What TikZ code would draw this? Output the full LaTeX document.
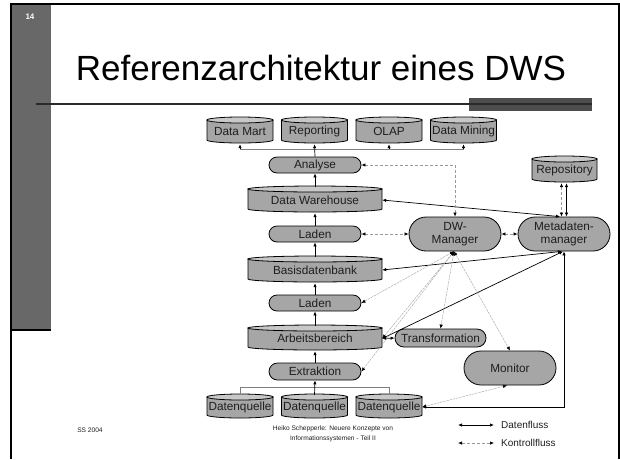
\documentclass[tikz,border=0pt]{standalone}
\usepackage{fontspec}
\setmainfont{Liberation Sans}
\usetikzlibrary{arrows.meta,shapes.misc,calc}

\definecolor{nodegray}{HTML}{A6A6A6}
\definecolor{capgray}{HTML}{C8C8C8}
\definecolor{bargray}{HTML}{686868}
\definecolor{rulegray}{HTML}{4D4D4D}
\definecolor{ruledark}{HTML}{2A2A2A}
\definecolor{ctrlgray}{HTML}{9A9A9A}
\definecolor{fangray}{HTML}{A8A8A8}
\definecolor{busgray}{HTML}{808080}
\definecolor{txt}{HTML}{1E1E1E}

\tikzset{
  tip/.tip={Latex[length=4pt,width=3.4pt,color=black]},
  nodefont/.style={font=\fontsize{11.8}{13.5}\selectfont, text=txt},
  cylbody/.style={fill=nodegray, draw=black, line width=0.8pt},
  cylcap/.style={fill=capgray, draw=black, line width=0.8pt},
  cyltext/.style={nodefont, rectangle, inner sep=0pt},
  stad/.style={nodefont, rounded rectangle, fill=nodegray, draw=black,
    line width=0.8pt, inner sep=0pt, align=center},
  flow/.style={draw=black, line width=0.7pt, -tip},
  flowboth/.style={draw=black, line width=0.7pt, tip-tip},
  bus/.style={draw=busgray, line width=0.8pt},
  ctrl/.style={draw=ctrlgray, line width=0.6pt, dash pattern=on 3pt off 2pt, tip-tip},
  ctrlfan/.style={draw=fangray, line width=0.45pt, dash pattern=on 2.5pt off 0.8pt, tip-tip},
  legendtext/.style={anchor=west, font=\fontsize{10}{11}\selectfont, text=txt, inner sep=0pt},
}

% cylinder: name, centre x, centre y, width, height, text
\newcommand\cylnode[6]{%
  \path[cylbody] (#2-#4/2,#3-#5/2+3) -- (#2-#4/2,#3+#5/2-3)
    arc[start angle=180,end angle=360,x radius={#4*0.5pt},y radius=3pt]
    -- (#2+#4/2,#3-#5/2+3) -- cycle;
  \path[cylcap] (#2,#3-#5/2+3) ellipse[x radius={#4*0.5pt},y radius=3pt];
  \node[cyltext,minimum width=#4,minimum height=#5] (#1) at (#2,#3+1) {#6};
}

\begin{document}
\begin{tikzpicture}[x=1pt,y=-1pt]
\useasboundingbox (0,0) rectangle (620,459);

% slide frame
\fill[bargray] (12,4) rectangle (51,330);
\draw[black, line width=1.6] (12,330) -- (51,330);
\draw[black, line width=2.2] (11.2,459) -- (11.2,4) -- (618.8,4) -- (618.8,459);
\node[font=\bfseries\fontsize{8}{9}\selectfont, text=white] (pagenum) at (30,17) {14};

% title and rule
\node[anchor=base, font=\fontsize{35}{40}\selectfont, text=black] (title) at (321,80) {Referenzarchitektur eines DWS};
\fill[rulegray] (469,98) rectangle (592,111);
\draw[ruledark, line width=2] (36,104) -- (592,104);

% cylinders
\cylnode{dmart}{240}{130}{66}{26}{Data Mart}
\cylnode{rep}{314.5}{130}{66}{26}{Reporting}
\cylnode{olap}{389}{130}{66}{26}{OLAP}
\cylnode{dmin}{463.5}{130}{66}{26}{Data Mining}
\cylnode{repo}{564.5}{169}{65}{26}{Repository}
\cylnode{dwh}{315}{199}{134}{26}{Data Warehouse}
\cylnode{basis}{315}{269}{134}{26}{Basisdatenbank}
\cylnode{arb}{315}{337.5}{134}{25}{Arbeitsbereich}
\cylnode{dq1}{240}{406}{66}{24}{Datenquelle}
\cylnode{dq2}{314.5}{406}{66}{24}{Datenquelle}
\cylnode{dq3}{389}{406}{66}{24}{Datenquelle}

% processes
\node[stad, minimum width=92, minimum height=16] (analyse) at (315,165) {Analyse};
\node[stad, minimum width=92, minimum height=16] (laden1) at (315,234) {Laden};
\node[stad, minimum width=92, minimum height=16] (laden2) at (315,303) {Laden};
\node[stad, minimum width=92, minimum height=17] (extr) at (315,371.5) {Extraktion};
\node[stad, minimum width=91, minimum height=18] (trans) at (440.5,338) {Transformation};
\node[stad, minimum width=92, minimum height=34] (dwm) at (455,234) {DW-\\Manager};
\node[stad, minimum width=92, minimum height=34] (meta) at (564,234) {Metadaten-\\manager};
\node[stad, minimum width=92, minimum height=34] (mon) at (510,368) {Monitor};

% data flow along the main column
\coordinate (topbus) at (0,149);
\coordinate (lowbus) at (0,387);
\draw[bus] (dmart.south |- topbus) -- (dmin.south |- topbus);
\draw[flow] (dmart.south |- topbus) -- (dmart.south);
\draw[flow] (olap.south |- topbus) -- (olap.south);
\draw[flow] (dmin.south |- topbus) -- (dmin.south);
\draw[flow] (analyse.north) -- (rep.south);
\draw[flow] (dwh.north) -- (analyse.south);
\draw[flow] (laden1.north) -- (dwh.south);
\draw[flow] (basis.north) -- (laden1.south);
\draw[flow] (laden2.north) -- (basis.south);
\draw[flow] (arb.north) -- (laden2.south);
\draw[flow] (extr.north) -- (arb.south);
\draw[bus] (dq1.north) -- (dq1.north |- lowbus) -- (dq3.north |- lowbus) -- (dq3.north);
\draw[flow] (dq2.north) -- (extr.south);
\draw[flowboth] (arb.east) -- (trans.west);

% metadata flows
\draw[flowboth] (dwh.east) -- ($(meta.north)+(-4,0)$);
\draw[flowboth] (basis.east) -- ($(meta.south)+(-2,0)$);
\draw[flowboth] (arb.east) -- ($(meta.south)+(-1,0)$);
\draw[flowboth] (dq3.east) -| (meta.south);
\draw[flowboth] ($(repo.south)+(2,0)$) -- ($(meta.north)+(2.5,0)$);
\draw[ctrl] ($(repo.south)+(-3,0)$) -- ($(meta.north)+(-2.5,0)$);

% control flow of the DW manager
\draw[ctrl] (dwm.east) -- (meta.west);
\draw[ctrl] (laden1.east) -- (dwm.west);
\draw[ctrl] (analyse.east) -| (dwm.north);
\coordinate (fan) at ($(dwm.south)+(-1,0)$);
\draw[ctrlfan] (fan) -- (laden2.east);
\draw[ctrlfan] (fan) -- (arb.east);
\draw[ctrlfan] (fan) -- (extr.east);
\draw[ctrlfan] (fan) -- (trans.north);
\draw[ctrlfan] (fan) -- (mon.north);
\draw[ctrlfan] ($(mon.south)+(-3,0)$) -- (dq3.east);

% legend
\coordinate (lega) at (458,425);
\coordinate (legb) at (494,425);
\coordinate (legc) at (458,443);
\coordinate (legd) at (494,443);
\draw[flowboth] (lega) -- (legb);
\draw[ctrl] (legc) -- (legd);
\node[legendtext] (legflow) at (501,425) {Datenfluss};
\node[legendtext] (legctrl) at (501,443) {Kontrollfluss};

% footer
\node[font=\fontsize{6.6}{8}\selectfont, text=txt] (date) at (90,430) {SS 2004};
\node[font=\fontsize{6.6}{10}\selectfont, text=txt, align=center] (author) at (333,434) {Heiko Schepperle: Neuere Konzepte von\\Informationssystemen - Teil II};
\end{tikzpicture}
\end{document}
